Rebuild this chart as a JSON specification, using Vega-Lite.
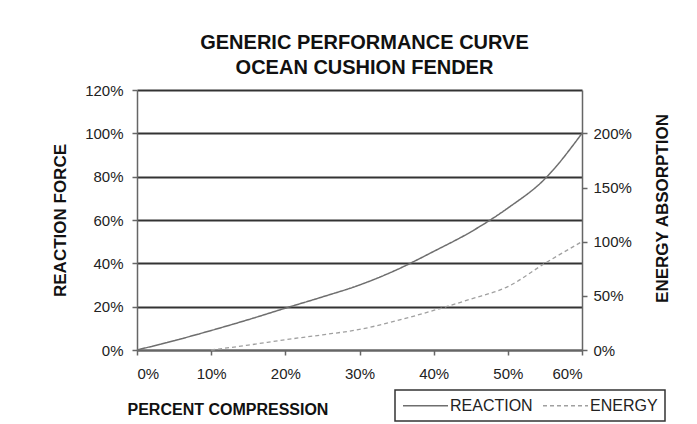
{
  "$schema": "https://vega.github.io/schema/vega-lite/v6.json",
  "autosize": "none",
  "padding": {"left": 137, "top": 90, "right": 115, "bottom": 74},
  "width": 445,
  "height": 260,
  "background": "white",
  "config": {
    "font": "Liberation Sans",
    "view": {"stroke": null},
    "axis": {"labelFont": "Liberation Sans", "labelColor": "#222", "labelFontSize": 15, "titleFont": "Liberation Sans", "titleColor": "#111", "titleFontWeight": "bold", "domainColor": "#666", "domainWidth": 1.5, "tickColor": "#666", "tickWidth": 1.5, "tickSize": 5},
    "legend": {
      "strokeColor": "#333",
      "strokeWidth": 1.5,
      "padding": 7,
      "symbolType": "M-1,0H5",
      "symbolSize": 225,
      "symbolStrokeWidth": 1.5,
      "labelFontSize": 16,
      "labelFont": "Liberation Sans",
      "labelColor": "#222",
      "labelOffset": 31,
      "columnPadding": 7
    }
  },
  "title": {
    "text": ["GENERIC PERFORMANCE CURVE", "OCEAN CUSHION FENDER"],
    "fontSize": 20,
    "fontWeight": "bold",
    "font": "Liberation Sans",
    "color": "#111",
    "lineHeight": 25,
    "anchor": "middle",
    "dx": 5,
    "offset": 5
  },
  "data": {
    "values": [
      {"pc": 0.0, "series": "REACTION", "v": 0.0},
      {"pc": 0.05, "series": "REACTION", "v": 0.043},
      {"pc": 0.1, "series": "REACTION", "v": 0.09},
      {"pc": 0.15, "series": "REACTION", "v": 0.14},
      {"pc": 0.2, "series": "REACTION", "v": 0.193},
      {"pc": 0.25, "series": "REACTION", "v": 0.245},
      {"pc": 0.3, "series": "REACTION", "v": 0.3},
      {"pc": 0.35, "series": "REACTION", "v": 0.37},
      {"pc": 0.4, "series": "REACTION", "v": 0.455},
      {"pc": 0.45, "series": "REACTION", "v": 0.545},
      {"pc": 0.5, "series": "REACTION", "v": 0.655},
      {"pc": 0.55, "series": "REACTION", "v": 0.79},
      {"pc": 0.6, "series": "REACTION", "v": 1.0},
      {"pc": 0.1, "series": "ENERGY", "v": 0.0},
      {"pc": 0.15, "series": "ENERGY", "v": 0.045},
      {"pc": 0.2, "series": "ENERGY", "v": 0.095},
      {"pc": 0.25, "series": "ENERGY", "v": 0.14},
      {"pc": 0.3, "series": "ENERGY", "v": 0.19},
      {"pc": 0.35, "series": "ENERGY", "v": 0.27},
      {"pc": 0.4, "series": "ENERGY", "v": 0.365},
      {"pc": 0.45, "series": "ENERGY", "v": 0.47},
      {"pc": 0.5, "series": "ENERGY", "v": 0.585},
      {"pc": 0.55, "series": "ENERGY", "v": 0.8},
      {"pc": 0.6, "series": "ENERGY", "v": 1.0}
    ]
  },
  "encoding": {
    "x": {
      "field": "pc",
      "type": "quantitative",
      "scale": {"domain": [0, 0.6], "nice": false},
      "axis": {
        "values": [0, 0.1, 0.2, 0.3, 0.4, 0.5, 0.6],
        "format": ".0%",
        "grid": false,
        "labelPadding": 11,
        "title": "PERCENT COMPRESSION",
        "titleFontSize": 16,
        "titleAnchor": "start",
        "titleAlign": "left",
        "titleBaseline": "middle",
        "titleX": -10,
        "titleY": 59
      }
    },
    "color": {
      "field": "series",
      "type": "nominal",
      "scale": {"domain": ["REACTION", "ENERGY"], "range": ["#6e6e6e", "#a0a0a0"]},
      "legend": {"title": null, "orient": "none", "legendX": 258, "legendY": 300, "direction": "horizontal"}
    },
    "strokeDash": {
      "field": "series",
      "type": "nominal",
      "scale": {"domain": ["REACTION", "ENERGY"], "range": [[1, 0], [4, 3]]},
      "legend": {"title": null, "orient": "none", "legendX": 258, "legendY": 300, "direction": "horizontal"}
    }
  },
  "layer": [
    {
      "transform": [{"filter": "datum.series === 'REACTION'"}],
      "mark": {"type": "line", "strokeWidth": 1.5, "interpolate": "monotone"},
      "encoding": {
        "y": {
          "field": "v",
          "type": "quantitative",
          "scale": {"domain": [0, 1.2], "nice": false},
          "axis": {
            "values": [0, 0.2, 0.4, 0.6, 0.8, 1.0, 1.2],
            "format": ".0%",
            "grid": true,
            "gridColor": "#333",
            "gridWidth": 1.8,
            "labelPadding": 9,
            "title": "REACTION FORCE",
            "titleFontSize": 17,
            "titleAngle": 270,
            "titleBaseline": "middle",
            "titleX": -77,
            "titleY": 130
          }
        }
      }
    },
    {
      "transform": [{"filter": "datum.series === 'ENERGY'"}],
      "mark": {"type": "line", "strokeWidth": 1.3, "interpolate": "monotone"},
      "encoding": {
        "y": {
          "field": "v",
          "type": "quantitative",
          "scale": {"domain": [0, 2.4], "nice": false},
          "axis": {
            "orient": "right",
            "values": [0, 0.5, 1.0, 1.5, 2.0],
            "format": ".0%",
            "grid": false,
            "labelPadding": 6,
            "title": "ENERGY ABSORPTION",
            "titleFontSize": 17,
            "titleAngle": 270,
            "titleBaseline": "middle",
            "titleX": 80,
            "titleY": 118
          }
        }
      }
    }
  ],
  "resolve": {"scale": {"y": "independent"}, "axis": {"y": "independent"}}
}
